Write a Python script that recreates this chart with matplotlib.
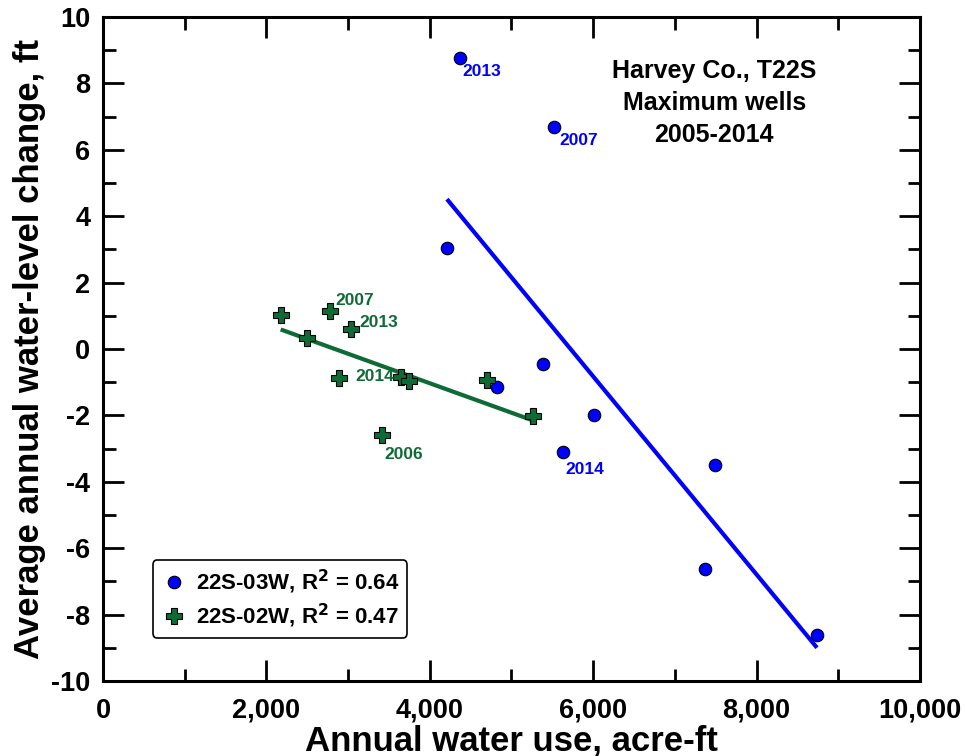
import matplotlib
matplotlib.use("Agg")
import matplotlib.pyplot as plt
from matplotlib.ticker import MultipleLocator, StrMethodFormatter
import numpy as np

plt.rcParams['font.family'] = ['Liberation Sans', 'DejaVu Sans']
plt.rcParams['font.weight'] = 'bold'
plt.rcParams['axes.unicode_minus'] = False

# 22S-03W wells (blue circles)
use_03w = [4370, 5520, 4210, 5386, 4823, 6010, 5630, 7490, 7368, 8739]
chg_03w = [8.77, 6.69, 3.04, -0.45, -1.14, -1.99, -3.10, -3.49, -6.63, -8.61]
# (point index, year, label offset in points)
years_03w = [(0, "2013", (2, -10)), (1, "2007", (4, -10)), (6, "2014", (2, -13))]

# 22S-02W wells (green crosses)
use_02w = [2175, 2779, 3035, 2501, 2889, 3648, 3749, 3411, 4696, 5267]
chg_02w = [1.02, 1.14, 0.60, 0.33, -0.88, -0.83, -0.95, -2.60, -0.93, -2.02]
years_02w = [(1, "2007", (4, 8)), (2, "2013", (6, 5)), (4, "2014", (12, 1)), (7, "2006", (2, -14))]

label_03w = "22S-03W, R$^{\\mathbf{2}}$ = 0.64"
label_02w = "22S-02W, R$^{\\mathbf{2}}$ = 0.47"

blue = '#0000ff'
green = '#0e6b36'

fig = plt.figure(figsize=(9.65, 7.56), dpi=100)
ax = fig.add_axes([0.1067, 0.0992, 0.8467, 0.8783])


def fit_line(x, y):
    x = np.asarray(x, float)
    y = np.asarray(y, float)
    m, b = np.polyfit(x, y, 1)
    xs = np.array([x.min(), x.max()])
    return xs, m * xs + b


xs, ys = fit_line(use_03w, chg_03w)
ax.plot(xs, ys, color=blue, lw=3, solid_capstyle='butt', zorder=2)
xs, ys = fit_line(use_02w, chg_02w)
ax.plot(xs, ys, color=green, lw=3, solid_capstyle='butt', zorder=2)

ax.plot(use_03w, chg_03w, ls='none', marker='o', ms=9, mfc=blue, mec='black',
        mew=0.8, label=label_03w, zorder=3)
ax.plot(use_02w, chg_02w, ls='none', marker='P', ms=11, mfc=green, mec='black',
        mew=0.8, label=label_02w, zorder=3)

for i, yr, off in years_03w:
    ax.annotate(yr, (use_03w[i], chg_03w[i]), xytext=off, textcoords='offset points',
                ha='left', va='center', fontsize=12.5, color=blue, fontweight='bold')
for i, yr, off in years_02w:
    ax.annotate(yr, (use_02w[i], chg_02w[i]), xytext=off, textcoords='offset points',
                ha='left', va='center', fontsize=12.5, color=green, fontweight='bold')

ax.text(0.748, 0.870, "Harvey Co., T22S\nMaximum wells\n2005-2014", transform=ax.transAxes,
        ha='center', va='center', fontsize=18, fontweight='bold', linespacing=1.42)

ax.set_xlim(0, 10000)
ax.set_ylim(-10, 10)
ax.xaxis.set_major_locator(MultipleLocator(2000))
ax.xaxis.set_minor_locator(MultipleLocator(1000))
ax.yaxis.set_major_locator(MultipleLocator(2))
ax.yaxis.set_minor_locator(MultipleLocator(1))
ax.xaxis.set_major_formatter(StrMethodFormatter('{x:,.0f}'))

ax.tick_params(which='both', direction='in', top=True, right=True, width=2)
ax.tick_params(which='major', length=15, labelsize=19.5)
ax.tick_params(axis='x', which='major', pad=12)
ax.tick_params(axis='y', which='major', pad=9)
ax.tick_params(which='minor', length=9)
for lab in ax.get_xticklabels() + ax.get_yticklabels():
    lab.set_fontweight('bold')
for sp in ax.spines.values():
    sp.set_linewidth(2.2)

ax.set_xlabel("Annual water use, acre-ft", fontsize=25, fontweight='bold')
ax.xaxis.set_label_coords(0.5, -0.066)
ax.set_ylabel("Average annual water-level change, ft", fontsize=25, fontweight='bold', labelpad=4)

leg = ax.legend(loc='lower left', bbox_to_anchor=(0.061, 0.065), borderaxespad=0,
                fontsize=16, frameon=True, fancybox=True, edgecolor='black',
                handletextpad=0.4, handlelength=1.2, borderpad=0.35, labelspacing=0.25)
leg.get_frame().set_linewidth(1.2)
leg.get_frame().set_alpha(1)

fig.savefig("out.png", dpi=100)
